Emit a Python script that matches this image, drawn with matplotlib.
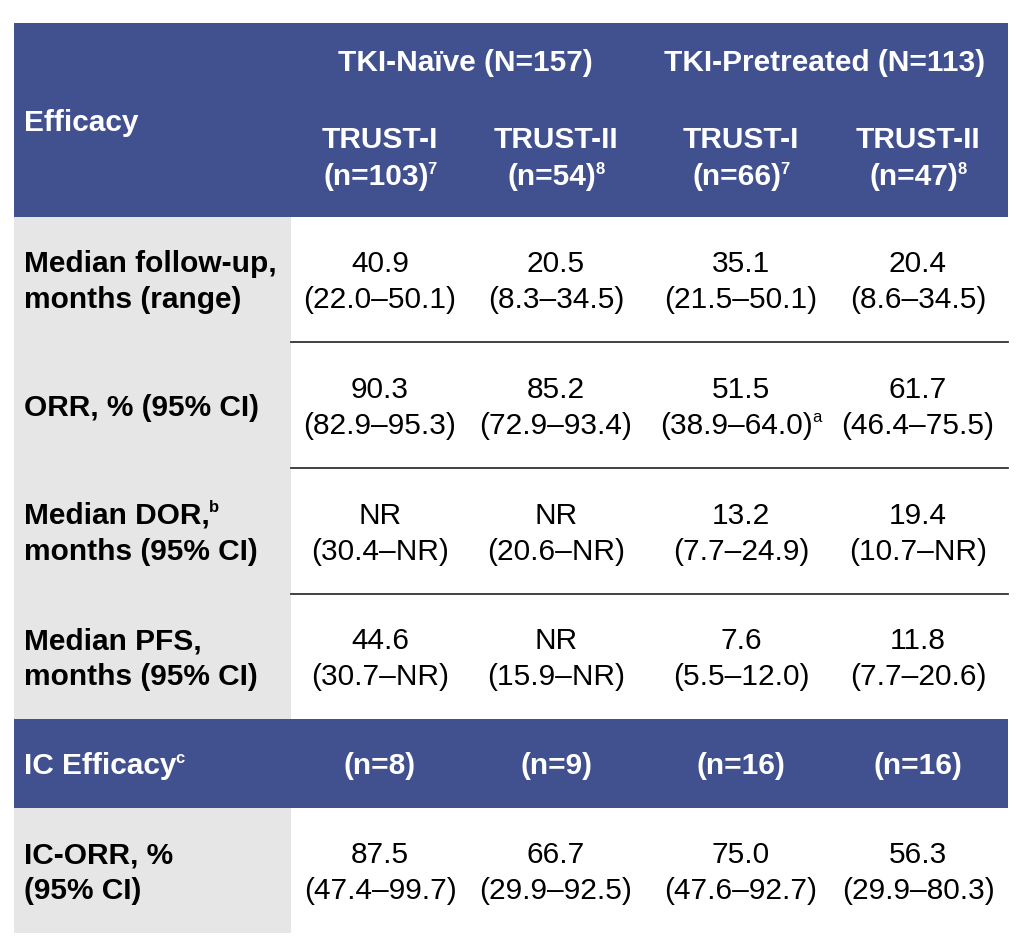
import matplotlib
matplotlib.use("Agg")
import matplotlib.pyplot as plt
from matplotlib.patches import Rectangle

# ---------------- data ----------------
group_headers = ["TKI-Naïve (N=157)", "TKI-Pretreated (N=113)"]
study_names = ["TRUST-I", "TRUST-II", "TRUST-I", "TRUST-II"]
study_n = ["(n=103)", "(n=54)", "(n=66)", "(n=47)"]
study_refs = ["7", "8", "7", "8"]

row_labels = [("Median follow-up,", "months (range)"),
              ("ORR, % (95% CI)", None),
              ("Median DOR,", "months (95% CI)"),
              ("Median PFS,", "months (95% CI)")]
row_label_sup = [None, None, "b", None]

follow_up = ["40.9", "20.5", "35.1", "20.4"]
follow_up_range = ["(22.0–50.1)", "(8.3–34.5)", "(21.5–50.1)", "(8.6–34.5)"]
orr = ["90.3", "85.2", "51.5", "61.7"]
orr_ci = ["(82.9–95.3)", "(72.9–93.4)", "(38.9–64.0)", "(46.4–75.5)"]
orr_ci_sup = [None, None, "a", None]
dor = ["NR", "NR", "13.2", "19.4"]
dor_ci = ["(30.4–NR)", "(20.6–NR)", "(7.7–24.9)", "(10.7–NR)"]
pfs = ["44.6", "NR", "7.6", "11.8"]
pfs_ci = ["(30.7–NR)", "(15.9–NR)", "(5.5–12.0)", "(7.7–20.6)"]

ic_header = "IC Efficacy"
ic_header_sup = "c"
ic_n = ["(n=8)", "(n=9)", "(n=16)", "(n=16)"]
ic_label = ("IC-ORR, %", "(95% CI)")
ic_orr = ["87.5", "66.7", "75.0", "56.3"]
ic_orr_ci = ["(47.4–99.7)", "(29.9–92.5)", "(47.6–92.7)", "(29.9–80.3)"]

# ---------------- layout ----------------
W, H = 1024, 953
BLUE = "#41508E"
GRAY = "#E6E6E6"
FONT = "Liberation Sans"
FS = 21.5
SUP = 12
DY = 2  # small global vertical nudge

fig = plt.figure(figsize=(W / 100, H / 100), dpi=100)
ax = fig.add_axes([0, 0, 1, 1])
ax.set_xlim(0, W)
ax.set_ylim(H, 0)
ax.axis("off")
renderer = fig.canvas.get_renderer()

L, R = 14, 1008
label_right = 291
rows_y = [24, 218, 343, 469, 595, 720, 809, 934]
col_x = [380, 556, 741, 918]
group_x = [465, 825]


def text_width(s, size, weight):
    t = ax.text(0, 0, s, fontsize=size, fontweight=weight, family=FONT)
    bb = t.get_window_extent(renderer=renderer)
    t.remove()
    return bb.width


def draw(x, y, s, weight="normal", color="black", ha="center", sup=None):
    y = y + DY
    main_w = text_width(s, FS, weight)
    gap = -1
    sup_w = text_width(sup, SUP, weight) if sup else 0
    total = main_w + (sup_w + gap if sup else 0)
    x0 = x - total / 2 if ha == "center" else x
    ax.text(x0, y, s, fontsize=FS, fontweight=weight, family=FONT,
            color=color, ha="left", va="center")
    if sup:
        ax.text(x0 + main_w + gap, y - 8, sup, fontsize=SUP, fontweight=weight,
                family=FONT, color=color, ha="left", va="center")


# header band
ax.add_patch(Rectangle((L, rows_y[0]), R - L, rows_y[1] - rows_y[0], color=BLUE, lw=0))
# gray label column
ax.add_patch(Rectangle((L, rows_y[1]), label_right - L, rows_y[5] - rows_y[1], color=GRAY, lw=0))
# IC header band
ax.add_patch(Rectangle((L, rows_y[5]), R - L, rows_y[6] - rows_y[5], color=BLUE, lw=0))
ax.add_patch(Rectangle((L, rows_y[6]), label_right - L, rows_y[7] - rows_y[6], color=GRAY, lw=0))

# separators
for yy in rows_y[2:5]:
    ax.plot([label_right, R], [yy, yy], color="#333333", lw=1.3)

# header texts
draw(24, 121, "Efficacy", weight="bold", color="white", ha="left")
for gx, gh in zip(group_x, group_headers):
    draw(gx, 61, gh, weight="bold", color="white")
for cx, nm, n, ref in zip(col_x, study_names, study_n, study_refs):
    draw(cx, 138, nm, weight="bold", color="white")
    draw(cx, 175, n, weight="bold", color="white", sup=ref)

# body rows
values = [(follow_up, follow_up_range, [None] * 4),
          (orr, orr_ci, orr_ci_sup),
          (dor, dor_ci, [None] * 4),
          (pfs, pfs_ci, [None] * 4)]
for i, ((l1, l2), lsup, (v, ci, cisup)) in enumerate(zip(row_labels, row_label_sup, values)):
    yc = (rows_y[i + 1] + rows_y[i + 2]) / 2
    if l2 is None:
        draw(24, yc, l1, weight="bold", ha="left", sup=lsup)
    else:
        draw(24, yc - 18, l1, weight="bold", ha="left", sup=lsup)
        draw(24, yc + 18, l2, weight="bold", ha="left")
    for cx, a, b, s in zip(col_x, v, ci, cisup):
        draw(cx, yc - 18, a)
        draw(cx, yc + 18, b, sup=s)

# IC header
yc = (rows_y[5] + rows_y[6]) / 2
draw(24, yc, ic_header, weight="bold", color="white", ha="left", sup=ic_header_sup)
for cx, n in zip(col_x, ic_n):
    draw(cx, yc, n, weight="bold", color="white")

# IC row
yc = (rows_y[6] + rows_y[7]) / 2
draw(24, yc - 18, ic_label[0], weight="bold", ha="left")
draw(24, yc + 18, ic_label[1], weight="bold", ha="left")
for cx, a, b in zip(col_x, ic_orr, ic_orr_ci):
    draw(cx, yc - 18, a)
    draw(cx, yc + 18, b)

fig.savefig("out.png", dpi=100)
